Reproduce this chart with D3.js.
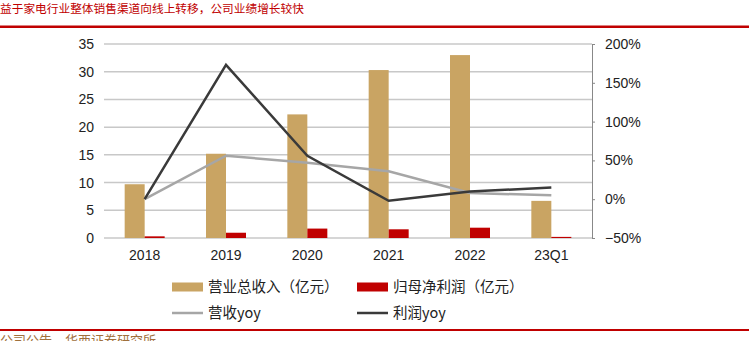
<!DOCTYPE html>
<html><head><meta charset="utf-8">
<script src="https://cdn.jsdelivr.net/npm/d3@7"></script>
<style>body{margin:0;background:#fff;}svg{display:block;}</style>
</head><body>
<svg id="c" width="749" height="341"></svg>
<script>
const categories = ["2018","2019","2020","2021","2022","23Q1"];
const revenue = [9.7, 15.2, 22.3, 30.3, 33.0, 6.7];
const profit = [0.3, 0.95, 1.7, 1.57, 1.86, 0.2];
const revenueYoy = [0, 56, 47, 36, 8, 5];
const profitYoy = [0, 173, 56, -2, 10, 15];
const leftTicks = [0,5,10,15,20,25,30,35];
const rightTicks = [-50,0,50,100,150,200];
const title = "益于家电行业整体销售渠道向线上转移，公司业绩增长较快";
const source = "公司公告，华西证券研究所";

const svg = d3.select("#c");
const L = 104, R = 592, T = 44, B = 238;
const cjk = "'Noto Sans CJK SC', sans-serif";
const lat = "'Liberation Sans', Arial, sans-serif";

svg.append("text").attr("x", 0).attr("y", 13).attr("fill", "#c00000")
  .style("font-family", cjk).style("font-size", "11.7px").text(title);
svg.append("rect").attr("x",0).attr("y",25.5).attr("width",749).attr("height",2.5).attr("fill","#c00000");
svg.append("rect").attr("x",0).attr("y",329).attr("width",749).attr("height",2).attr("fill","#c00000");
svg.append("text").attr("x", 0).attr("y", 345).attr("fill", "#a0703c")
  .style("font-family", cjk).style("font-size", "13px").text(source);

const x = d3.scaleBand().domain(categories).range([L, R]);
const y = d3.scaleLinear().domain([0,35]).range([B, T]);
const y2 = d3.scaleLinear().domain([-50,200]).range([B, T]);

// gridlines
svg.append("g").selectAll("line").data(leftTicks).join("line")
  .attr("x1", L).attr("x2", R).attr("y1", d=>y(d)).attr("y2", d=>y(d))
  .attr("stroke", "#c8c8c8").attr("stroke-width", 1.5);

// left axis labels
const ga = svg.append("g").attr("transform", `translate(${L-10},0)`)
  .call(d3.axisLeft(y).tickValues(leftTicks).tickSize(0).tickPadding(0));
ga.select(".domain").remove();
ga.selectAll("text").style("font-family", lat).style("font-size", "14px").attr("fill", "#222");

// right axis
const gr = svg.append("g").attr("transform", `translate(${R},0)`)
  .call(d3.axisRight(y2).tickValues(rightTicks).tickSize(3).tickPadding(10).tickFormat(d => (d<0?"−":"") + Math.abs(d) + "%"));
gr.select(".domain").attr("stroke", "#888");
gr.selectAll(".tick line").attr("stroke", "#888");
gr.selectAll("text").style("font-family", lat).style("font-size", "14px").attr("fill", "#222");

// bottom labels
const gb = svg.append("g").attr("transform", `translate(0,${B})`)
  .call(d3.axisBottom(x).tickSize(0).tickPadding(12));
gb.select(".domain").remove();
gb.selectAll("text").style("font-family", lat).style("font-size", "14px").attr("fill", "#222");

const bw = 20;
svg.append("g").selectAll("rect").data(revenue).join("rect")
  .attr("x", (d,i)=> x(categories[i]) + x.bandwidth()/2 - bw)
  .attr("width", bw).attr("y", d=>y(d)).attr("height", d=>y(0)-y(d)).attr("fill", "#c9a463");
svg.append("g").selectAll("rect").data(profit).join("rect")
  .attr("x", (d,i)=> x(categories[i]) + x.bandwidth()/2)
  .attr("width", bw).attr("y", d=>y(d)).attr("height", d=>y(0)-y(d)).attr("fill", "#c00000");

const line = d3.line().x((d,i)=> x(categories[i]) + x.bandwidth()/2).y(d=>y2(d));
svg.append("path").datum(revenueYoy).attr("d", line).attr("fill","none").attr("stroke","#a6a6a6").attr("stroke-width",2.5);
svg.append("path").datum(profitYoy).attr("d", line).attr("fill","none").attr("stroke","#3a3a3a").attr("stroke-width",2.5);

// legend
const lg = svg.append("g").style("font-family", cjk).style("font-size", "14.5px").attr("fill", "#222");
const items = [
  {t:"营业总收入（亿元）", type:"rect", c:"#c9a463", x:172, y:287},
  {t:"归母净利润（亿元）", type:"rect", c:"#c00000", x:357, y:287},
  {t:"营收yoy", type:"line", c:"#a6a6a6", x:172, y:313},
  {t:"利润yoy", type:"line", c:"#3a3a3a", x:357, y:313}
];
items.forEach(it => {
  if (it.type === "rect") lg.append("rect").attr("x", it.x).attr("y", it.y-4.5).attr("width", 31).attr("height", 9).attr("fill", it.c);
  else lg.append("line").attr("x1", it.x).attr("x2", it.x+31).attr("y1", it.y).attr("y2", it.y).attr("stroke", it.c).attr("stroke-width", 2.5);
  lg.append("text").attr("x", it.x+36).attr("y", it.y+5).text(it.t);
});
</script>
</body></html>
